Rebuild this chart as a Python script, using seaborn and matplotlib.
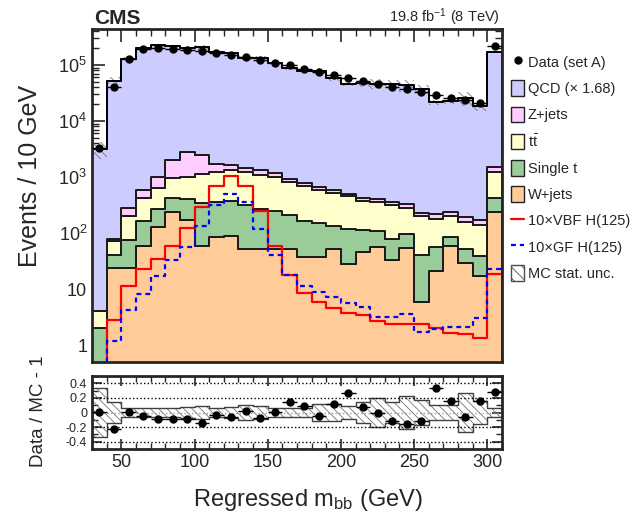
import numpy as np
import pandas as pd
import matplotlib
matplotlib.use("Agg")
import matplotlib.pyplot as plt
import seaborn as sns
from matplotlib.lines import Line2D
from matplotlib.patches import Patch
from matplotlib.ticker import MultipleLocator, FixedLocator, FixedFormatter, LogLocator, NullFormatter

# 10 GeV bins, 30 -> 310 GeV
edges = np.arange(30, 320, 10)
centers = edges[:-1] + 5
bin_list = [float(e) for e in edges]

# values (events per bin)
data = [3240, 40700, 130000, 191000, 205000, 196000, 185000, 176000, 164000, 154000,
        137000, 125000, 110000, 99000, 86000, 75000, 65500, 58000, 52000, 46500,
        41000, 36700, 32500, 29000, 26100, 24000, 21200, 219000]
qcd = [3204, 52780, 129700, 200400, 224300, 213400, 200500, 203400, 167400, 161400,
       133500, 133700, 107700, 85900, 78100, 78200, 57900, 45500, 48200, 46100,
       45900, 42900, 36500, 21400, 22400, 25500, 18200, 169600]
zjets = [0, 6, 72, 165, 352, 1030, 1800, 1310, 530, 285,
         210, 260, 200, 127, 87, 75, 64, 55, 55, 52,
         42, 46, 31, 37, 29, 40, 28, 290]
ttbar = [2.0, 31, 129, 252, 378, 532, 600, 770, 850, 965,
         926, 830, 744, 606, 533, 442, 388, 330, 260, 247,
         240, 187, 157, 125, 119, 104, 101, 815]
single_t = [1.7, 16.5, 52.5, 104, 141, 180, 226, 290, 275, 285,
            271, 217, 194, 155, 129, 113, 81, 92, 69, 54,
            45, 41, 35, 34.5, 28, 22, 23, 175]
wjets = [0.3, 23.5, 23.5, 59, 129, 238, 174, 60, 85, 90,
         53, 53, 52, 52, 37.5, 37, 52, 28.4, 46, 57,
         33.4, 54, 5.85, 21, 58, 29, 16.8, 240]
vbf = [0.3, 2.8, 11.4, 23, 35, 59.6, 122, 290, 685, 1064,
       685, 246, 58, 18, 8.5, 5.85, 4.57, 3.7, 3.47, 2.74,
       2.4, 2.4, 2.4, 2.06, 1.67, 1.59, 1.33, 18.8]
gf = [0.3, 1.2, 4.3, 8.2, 16.8, 32.5, 56, 135, 315, 500,
      355, 118, 41, 18, 11.5, 8.8, 7.3, 5.75, 4.76, 3.24,
      3.24, 3.66, 1.75, 1.97, 2.1, 2.1, 3.0, 23]
# relative MC statistical uncertainty per bin
mc_unc = [0.34, 0.145, 0.06, 0.06, 0.063, 0.063, 0.075, 0.09, 0.06, 0.07,
          0.1, 0.095, 0.06, 0.055, 0.065, 0.115, 0.115, 0.095, 0.15, 0.2,
          0.15, 0.23, 0.175, 0.105, 0.105, 0.27, 0.16, 0.055]

procs = ["QCD (\u00d7 1.68)", "Z+jets", "t$\\bar{\\rm t}$", "Single t", "W+jets"]
colors = ["#ccccff", "#ffccff", "#ffffcc", "#99cc99", "#ffcc99"]

sns.set_style("ticks")
plt.rcParams["font.family"] = ["Liberation Sans", "DejaVu Sans"]
plt.rcParams["mathtext.fontset"] = "custom"
plt.rcParams["mathtext.rm"] = "Liberation Sans"
plt.rcParams["mathtext.it"] = "Liberation Sans:italic"
plt.rcParams["mathtext.bf"] = "Liberation Sans:bold"
plt.rcParams["hatch.linewidth"] = 0.6

fig = plt.figure(figsize=(6.39, 5.18), dpi=100)
ax = fig.add_axes([92/639, 1-362/518, 410/639, 333/518])
rax = fig.add_axes([92/639, 1-449/518, 410/639, 73/518])

# stacked backgrounds (last hue level ends up at the bottom)
df = pd.DataFrame({
    "mbb": np.tile(centers, 5),
    "events": np.concatenate([qcd, zjets, ttbar, single_t, wjets]),
    "proc": np.repeat(procs, len(centers)),
})
ax.set_yscale("log")
sns.histplot(data=df, x="mbb", weights="events", hue="proc", hue_order=procs,
             multiple="stack", bins=bin_list, element="step", palette=colors,
             alpha=1, edgecolor="#1a1a1a", linewidth=1.4, legend=False, ax=ax)

# signals x10
sig = pd.DataFrame({"mbb": centers, "vbf": vbf, "gf": gf})
sns.histplot(data=sig, x="mbb", weights="vbf", bins=bin_list, element="step", fill=False,
             color="red", linewidth=1.6, ax=ax)
sns.histplot(data=sig, x="mbb", weights="gf", bins=bin_list, element="step", fill=False,
             color="blue", linewidth=1.6, linestyle=(0, (2.2, 1.8)), ax=ax)

mc = np.array(qcd) + np.array(zjets) + np.array(ttbar) + np.array(single_t) + np.array(wjets)
unc = np.array(mc_unc)
mc_step = np.append(mc, mc[-1])
unc_step = np.append(unc, unc[-1])

ax.fill_between(edges, mc_step*(1-unc_step), mc_step*(1+unc_step), step="post",
                facecolor="none", edgecolor="0.45", hatch="\\\\\\\\", linewidth=0)
ax.step(edges, mc_step, where="post", color="black", lw=1.3)

ax.errorbar(centers, data, xerr=5, fmt="o", color="black", markersize=5,
            elinewidth=1, capsize=0, zorder=5)

ax.set_xlim(30, 310)
ax.set_ylim(0.5, 4.4e5)
ax.set_xlabel("")
ax.set_ylabel("Events / 10 GeV", fontsize=18)
ax.yaxis.set_label_coords(-0.122, 0.56)
ax.yaxis.set_major_locator(FixedLocator([1, 10, 1e2, 1e3, 1e4, 1e5]))
ax.yaxis.set_major_formatter(FixedFormatter(["1", "10", "$10^{2}$", "$10^{3}$", "$10^{4}$", "$10^{5}$"]))
ax.yaxis.set_minor_locator(LogLocator(base=10, subs=np.arange(2, 10)))
ax.yaxis.set_minor_formatter(NullFormatter())
ax.xaxis.set_major_locator(MultipleLocator(50))
ax.xaxis.set_minor_locator(MultipleLocator(10))
ax.tick_params(which="both", direction="in", top=True, right=True, labelbottom=False)
ax.tick_params(which="major", length=9, width=1.2, labelsize=13)
ax.tick_params(which="minor", length=5, width=1)
for s in ax.spines.values():
    s.set_linewidth(2)

# ratio panel
ratio = np.array(data) / mc - 1
rax.fill_between(edges, -unc_step, unc_step, step="post", facecolor="none",
                 edgecolor="0.45", hatch="\\\\\\\\", linewidth=0)
rax.step(edges, unc_step, where="post", color="0.25", lw=1)
rax.step(edges, -unc_step, where="post", color="0.25", lw=1)
for yv in [-0.4, -0.2, 0.2, 0.4]:
    rax.axhline(yv, color="black", ls=":", lw=1)
rax.axhline(0, color="0.6", ls=":", lw=1)
rax.errorbar(centers, ratio, xerr=5, fmt="o", color="black", markersize=5,
             elinewidth=1, capsize=0, zorder=5)
rax.set_xlim(30, 310)
rax.set_ylim(-0.5, 0.5)
rax.set_yticks([-0.4, -0.2, 0, 0.2, 0.4])
rax.set_yticklabels(["-0.4", "-0.2", "0", "0.2", "0.4"])
rax.yaxis.set_minor_locator(MultipleLocator(0.1))
rax.xaxis.set_major_locator(MultipleLocator(50))
rax.xaxis.set_minor_locator(MultipleLocator(10))
rax.tick_params(which="both", direction="in", top=True, right=True)
rax.tick_params(which="major", length=7, width=1.2)
rax.tick_params(which="minor", length=4, width=1)
rax.tick_params(axis="x", labelsize=13)
rax.tick_params(axis="y", labelsize=9)
for s in rax.spines.values():
    s.set_linewidth(2)
rax.set_ylabel("Data / MC - 1", fontsize=13.5)
rax.yaxis.set_label_coords(-0.11, 0.52)
rax.set_xlabel("Regressed m$_{\\rm bb}$ (GeV)", fontsize=17)
rax.xaxis.set_label_coords(0.527, -0.52)

fig.text(94/639, 1-24/518, "CMS", fontweight="bold", fontsize=15, va="baseline")
fig.text(500/639, 1-22/518, "19.8 fb$^{-1}$ (8 TeV)", ha="right", fontsize=10.5, va="baseline")

handles = [Line2D([], [], marker="o", color="black", ls="none", markersize=5)]
labels = ["Data (set A)"]
for p, c in zip(procs, colors):
    handles.append(Patch(facecolor=c, edgecolor="#222222", linewidth=1))
    labels.append(p)
handles += [Line2D([], [], color="red", lw=1.6),
            Line2D([], [], color="blue", lw=1.6, ls=(0, (2.2, 1.8))),
            Patch(facecolor="white", edgecolor="0.3", hatch="\\\\\\", linewidth=1)]
labels += ["10\u00d7VBF H(125)", "10\u00d7GF H(125)", "MC stat. unc."]
fig.legend(handles, labels, loc="upper left", bbox_to_anchor=(511/639, 1-54/518),
           frameon=False, fontsize=10.5, handlelength=0.9, handleheight=1.25,
           handletextpad=0.25, labelspacing=0.73, borderpad=0, borderaxespad=0)

fig.savefig("out.png", dpi=100)
